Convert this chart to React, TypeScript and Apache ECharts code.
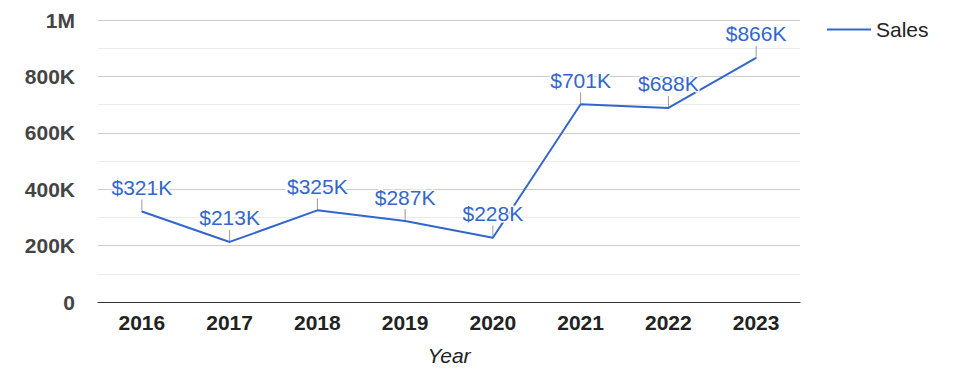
import React, { useEffect, useRef } from "react";
import * as echarts from "echarts";

const years = ["2016", "2017", "2018", "2019", "2020", "2021", "2022", "2023"];
const sales = [321000, 213000, 325000, 287000, 228000, 701000, 688000, 866000];
const yTicks = [0, 200000, 400000, 600000, 800000, 1000000];

const FONT = "'Liberation Sans', Arial, sans-serif";
const BLUE = "#3366cc";

function fmtAxis(v: number): string {
  if (v === 0) return "0";
  if (v >= 1000000) return v / 1000000 + "M";
  return v / 1000 + "K";
}

export default function App() {
  const ref = useRef<HTMLDivElement>(null);
  useEffect(() => {
    if (!ref.current) return;
    const chart = echarts.init(ref.current, undefined, { renderer: "svg" });
    chart.setOption({
      animation: false,
      backgroundColor: "#fff",
      grid: { left: 98, right: 175, top: 20, bottom: 76, containLabel: false },
      legend: {
        data: [{ name: "Sales", icon: "rect", itemStyle: { color: BLUE, opacity: 1 } }],
        left: 822,
        top: 14,
        itemWidth: 44,
        itemHeight: 2,
        itemGap: 8,
        textStyle: { fontFamily: FONT, fontSize: 21, color: "#222" },
      },
      xAxis: {
        type: "category",
        data: years,
        boundaryGap: true,
        axisTick: { show: false },
        axisLine: { lineStyle: { color: "#333", width: 1 } },
        axisLabel: { fontFamily: FONT, fontSize: 21, fontWeight: "bold", color: "#222", margin: 10 },
        name: "Year",
        nameLocation: "middle",
        nameGap: 43,
        nameTextStyle: { fontFamily: FONT, fontSize: 21, fontStyle: "italic", color: "#222" },
      },
      yAxis: {
        type: "value",
        min: yTicks[0],
        max: yTicks[yTicks.length - 1],
        interval: 200000,
        axisLine: { show: false },
        axisTick: { show: false },
        axisLabel: {
          fontFamily: FONT,
          fontSize: 21,
          fontWeight: "bold",
          color: "#444",
          margin: 23,
          formatter: (v: number) => fmtAxis(v),
        },
        splitLine: { lineStyle: { color: "#cccccc", width: 1 } },
        minorTick: { show: false, splitNumber: 2 },
        minorSplitLine: { show: true, lineStyle: { color: "#ebebeb", width: 1 } },
      },
      series: [
        {
          name: "stems",
          type: "custom",
          data: sales.map((v, i) => [i, v]),
          z: 1,
          silent: true,
          renderItem: (params: any, api: any) => {
            const p = api.coord([api.value(0), api.value(1)]);
            return {
              type: "line",
              shape: { x1: p[0], y1: p[1] - 1, x2: p[0], y2: p[1] - 12 },
              style: { stroke: "#999", lineWidth: 1 },
            };
          },
        },
        {
          name: "Sales",
          type: "line",
          data: sales,
          symbol: "circle",
          symbolSize: 1,
          showSymbol: true,
          z: 3,
          lineStyle: { color: BLUE, width: 2 },
          itemStyle: { color: BLUE },
          label: {
            show: true,
            position: "top",
            distance: 13,
            fontFamily: FONT,
            fontSize: 21,
            color: BLUE,
            textBorderColor: "#fff",
            textBorderWidth: 3,
            formatter: (p: any) => "$" + Math.round(p.value / 1000) + "K",
          },
        },
      ],
    });
    return () => chart.dispose();
  }, []);
  return (
    <div
      ref={ref}
      style={{ position: "absolute", left: 0, top: 0, width: 975, height: 378 }}
    />
  );
}
